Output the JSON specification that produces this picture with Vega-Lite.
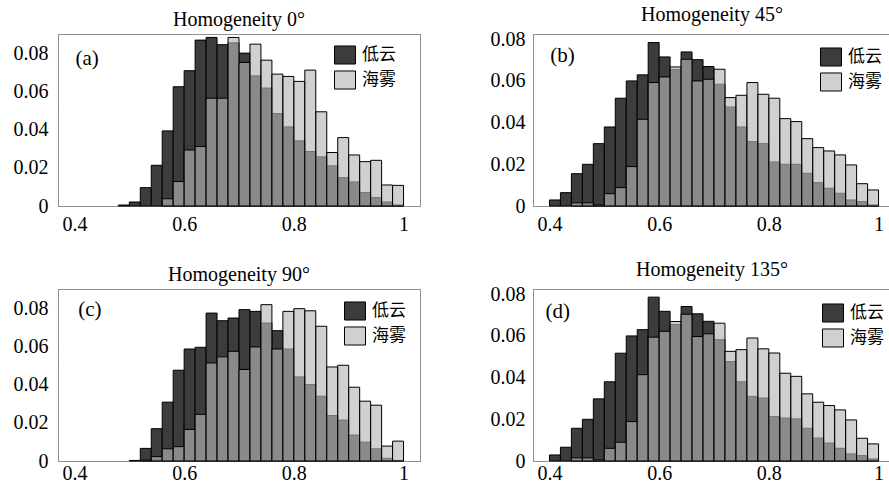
{
"$schema": "https://vega.github.io/schema/vega-lite/v6.json",
"background": "white",
"padding": {"left": 12, "top": 4, "right": 0, "bottom": 0},
"data": {"values": [
{"panel":"a","lo":0.48,"hi":0.50,"type":"低云","freq":0.0005},
{"panel":"a","lo":0.50,"hi":0.52,"type":"低云","freq":0.0021},
{"panel":"a","lo":0.52,"hi":0.54,"type":"低云","freq":0.0096},
{"panel":"a","lo":0.54,"hi":0.56,"type":"低云","freq":0.0213},
{"panel":"a","lo":0.56,"hi":0.58,"type":"低云","freq":0.0393},
{"panel":"a","lo":0.58,"hi":0.60,"type":"低云","freq":0.0624},
{"panel":"a","lo":0.60,"hi":0.62,"type":"低云","freq":0.0708},
{"panel":"a","lo":0.62,"hi":0.64,"type":"低云","freq":0.0868},
{"panel":"a","lo":0.64,"hi":0.66,"type":"低云","freq":0.0882},
{"panel":"a","lo":0.66,"hi":0.68,"type":"低云","freq":0.0844},
{"panel":"a","lo":0.68,"hi":0.70,"type":"低云","freq":0.0854},
{"panel":"a","lo":0.70,"hi":0.72,"type":"低云","freq":0.0800},
{"panel":"a","lo":0.72,"hi":0.74,"type":"低云","freq":0.0681},
{"panel":"a","lo":0.74,"hi":0.76,"type":"低云","freq":0.0617},
{"panel":"a","lo":0.76,"hi":0.78,"type":"低云","freq":0.0484},
{"panel":"a","lo":0.78,"hi":0.80,"type":"低云","freq":0.0414},
{"panel":"a","lo":0.80,"hi":0.82,"type":"低云","freq":0.0341},
{"panel":"a","lo":0.82,"hi":0.84,"type":"低云","freq":0.0285},
{"panel":"a","lo":0.84,"hi":0.86,"type":"低云","freq":0.0257},
{"panel":"a","lo":0.86,"hi":0.88,"type":"低云","freq":0.0210},
{"panel":"a","lo":0.88,"hi":0.90,"type":"低云","freq":0.0148},
{"panel":"a","lo":0.90,"hi":0.92,"type":"低云","freq":0.0126},
{"panel":"a","lo":0.92,"hi":0.94,"type":"低云","freq":0.0070},
{"panel":"a","lo":0.94,"hi":0.96,"type":"低云","freq":0.0044},
{"panel":"a","lo":0.96,"hi":0.98,"type":"低云","freq":0.0021},
{"panel":"a","lo":0.98,"hi":1.00,"type":"低云","freq":0.0005},
{"panel":"a","lo":0.56,"hi":0.58,"type":"海雾","freq":0.0038},
{"panel":"a","lo":0.58,"hi":0.60,"type":"海雾","freq":0.0128},
{"panel":"a","lo":0.60,"hi":0.62,"type":"海雾","freq":0.0293},
{"panel":"a","lo":0.62,"hi":0.64,"type":"海雾","freq":0.0311},
{"panel":"a","lo":0.64,"hi":0.66,"type":"海雾","freq":0.0564},
{"panel":"a","lo":0.66,"hi":0.68,"type":"海雾","freq":0.0564},
{"panel":"a","lo":0.68,"hi":0.70,"type":"海雾","freq":0.0882},
{"panel":"a","lo":0.70,"hi":0.72,"type":"海雾","freq":0.0751},
{"panel":"a","lo":0.72,"hi":0.74,"type":"海雾","freq":0.0847},
{"panel":"a","lo":0.74,"hi":0.76,"type":"海雾","freq":0.0763},
{"panel":"a","lo":0.76,"hi":0.78,"type":"海雾","freq":0.0690},
{"panel":"a","lo":0.78,"hi":0.80,"type":"海雾","freq":0.0678},
{"panel":"a","lo":0.80,"hi":0.82,"type":"海雾","freq":0.0652},
{"panel":"a","lo":0.82,"hi":0.84,"type":"海雾","freq":0.0711},
{"panel":"a","lo":0.84,"hi":0.86,"type":"海雾","freq":0.0493},
{"panel":"a","lo":0.86,"hi":0.88,"type":"海雾","freq":0.0280},
{"panel":"a","lo":0.88,"hi":0.90,"type":"海雾","freq":0.0358},
{"panel":"a","lo":0.90,"hi":0.92,"type":"海雾","freq":0.0267},
{"panel":"a","lo":0.92,"hi":0.94,"type":"海雾","freq":0.0232},
{"panel":"a","lo":0.94,"hi":0.96,"type":"海雾","freq":0.0239},
{"panel":"a","lo":0.96,"hi":0.98,"type":"海雾","freq":0.0110},
{"panel":"a","lo":0.98,"hi":1.00,"type":"海雾","freq":0.0108},
{"panel":"b","lo":0.40,"hi":0.42,"type":"低云","freq":0.0029},
{"panel":"b","lo":0.42,"hi":0.44,"type":"低云","freq":0.0064},
{"panel":"b","lo":0.44,"hi":0.46,"type":"低云","freq":0.0155},
{"panel":"b","lo":0.46,"hi":0.48,"type":"低云","freq":0.0200},
{"panel":"b","lo":0.48,"hi":0.50,"type":"低云","freq":0.0299},
{"panel":"b","lo":0.50,"hi":0.52,"type":"低云","freq":0.0379},
{"panel":"b","lo":0.52,"hi":0.54,"type":"低云","freq":0.0517},
{"panel":"b","lo":0.54,"hi":0.56,"type":"低云","freq":0.0600},
{"panel":"b","lo":0.56,"hi":0.58,"type":"低云","freq":0.0629},
{"panel":"b","lo":0.58,"hi":0.60,"type":"低云","freq":0.0784},
{"panel":"b","lo":0.60,"hi":0.62,"type":"低云","freq":0.0715},
{"panel":"b","lo":0.62,"hi":0.64,"type":"低云","freq":0.0655},
{"panel":"b","lo":0.64,"hi":0.66,"type":"低云","freq":0.0739},
{"panel":"b","lo":0.66,"hi":0.68,"type":"低云","freq":0.0702},
{"panel":"b","lo":0.68,"hi":0.70,"type":"低云","freq":0.0669},
{"panel":"b","lo":0.70,"hi":0.72,"type":"低云","freq":0.0584},
{"panel":"b","lo":0.72,"hi":0.74,"type":"低云","freq":0.0475},
{"panel":"b","lo":0.74,"hi":0.76,"type":"低云","freq":0.0379},
{"panel":"b","lo":0.76,"hi":0.78,"type":"低云","freq":0.0309},
{"panel":"b","lo":0.78,"hi":0.80,"type":"低云","freq":0.0299},
{"panel":"b","lo":0.80,"hi":0.82,"type":"低云","freq":0.0211},
{"panel":"b","lo":0.82,"hi":0.84,"type":"低云","freq":0.0200},
{"panel":"b","lo":0.84,"hi":0.86,"type":"低云","freq":0.0200},
{"panel":"b","lo":0.86,"hi":0.88,"type":"低云","freq":0.0157},
{"panel":"b","lo":0.88,"hi":0.90,"type":"低云","freq":0.0112},
{"panel":"b","lo":0.90,"hi":0.92,"type":"低云","freq":0.0085},
{"panel":"b","lo":0.92,"hi":0.94,"type":"低云","freq":0.0061},
{"panel":"b","lo":0.94,"hi":0.96,"type":"低云","freq":0.0029},
{"panel":"b","lo":0.96,"hi":0.98,"type":"低云","freq":0.0021},
{"panel":"b","lo":0.98,"hi":1.00,"type":"低云","freq":0.0005},
{"panel":"b","lo":0.44,"hi":0.46,"type":"海雾","freq":0.0015},
{"panel":"b","lo":0.46,"hi":0.48,"type":"海雾","freq":0.0015},
{"panel":"b","lo":0.48,"hi":0.50,"type":"海雾","freq":0.0005},
{"panel":"b","lo":0.50,"hi":0.52,"type":"海雾","freq":0.0059},
{"panel":"b","lo":0.52,"hi":0.54,"type":"海雾","freq":0.0088},
{"panel":"b","lo":0.54,"hi":0.56,"type":"海雾","freq":0.0189},
{"panel":"b","lo":0.56,"hi":0.58,"type":"海雾","freq":0.0416},
{"panel":"b","lo":0.58,"hi":0.60,"type":"海雾","freq":0.0592},
{"panel":"b","lo":0.60,"hi":0.62,"type":"海雾","freq":0.0619},
{"panel":"b","lo":0.62,"hi":0.64,"type":"海雾","freq":0.0667},
{"panel":"b","lo":0.64,"hi":0.66,"type":"海雾","freq":0.0704},
{"panel":"b","lo":0.66,"hi":0.68,"type":"海雾","freq":0.0600},
{"panel":"b","lo":0.68,"hi":0.70,"type":"海雾","freq":0.0608},
{"panel":"b","lo":0.70,"hi":0.72,"type":"海雾","freq":0.0656},
{"panel":"b","lo":0.72,"hi":0.74,"type":"海雾","freq":0.0520},
{"panel":"b","lo":0.74,"hi":0.76,"type":"海雾","freq":0.0531},
{"panel":"b","lo":0.76,"hi":0.78,"type":"海雾","freq":0.0592},
{"panel":"b","lo":0.78,"hi":0.80,"type":"海雾","freq":0.0536},
{"panel":"b","lo":0.80,"hi":0.82,"type":"海雾","freq":0.0517},
{"panel":"b","lo":0.82,"hi":0.84,"type":"海雾","freq":0.0419},
{"panel":"b","lo":0.84,"hi":0.86,"type":"海雾","freq":0.0405},
{"panel":"b","lo":0.86,"hi":0.88,"type":"海雾","freq":0.0323},
{"panel":"b","lo":0.88,"hi":0.90,"type":"海雾","freq":0.0280},
{"panel":"b","lo":0.90,"hi":0.92,"type":"海雾","freq":0.0264},
{"panel":"b","lo":0.92,"hi":0.94,"type":"海雾","freq":0.0245},
{"panel":"b","lo":0.94,"hi":0.96,"type":"海雾","freq":0.0197},
{"panel":"b","lo":0.96,"hi":0.98,"type":"海雾","freq":0.0107},
{"panel":"b","lo":0.98,"hi":1.00,"type":"海雾","freq":0.0077},
{"panel":"c","lo":0.50,"hi":0.52,"type":"低云","freq":0.0003},
{"panel":"c","lo":0.52,"hi":0.54,"type":"低云","freq":0.0066},
{"panel":"c","lo":0.54,"hi":0.56,"type":"低云","freq":0.0169},
{"panel":"c","lo":0.56,"hi":0.58,"type":"低云","freq":0.0308},
{"panel":"c","lo":0.58,"hi":0.60,"type":"低云","freq":0.0475},
{"panel":"c","lo":0.60,"hi":0.62,"type":"低云","freq":0.0586},
{"panel":"c","lo":0.62,"hi":0.64,"type":"低云","freq":0.0595},
{"panel":"c","lo":0.64,"hi":0.66,"type":"低云","freq":0.0774},
{"panel":"c","lo":0.66,"hi":0.68,"type":"低云","freq":0.0734},
{"panel":"c","lo":0.68,"hi":0.70,"type":"低云","freq":0.0748},
{"panel":"c","lo":0.70,"hi":0.72,"type":"低云","freq":0.0792},
{"panel":"c","lo":0.72,"hi":0.74,"type":"低云","freq":0.0783},
{"panel":"c","lo":0.74,"hi":0.76,"type":"低云","freq":0.0722},
{"panel":"c","lo":0.76,"hi":0.78,"type":"低云","freq":0.0682},
{"panel":"c","lo":0.78,"hi":0.80,"type":"低云","freq":0.0586},
{"panel":"c","lo":0.80,"hi":0.82,"type":"低云","freq":0.0440},
{"panel":"c","lo":0.82,"hi":0.84,"type":"低云","freq":0.0400},
{"panel":"c","lo":0.84,"hi":0.86,"type":"低云","freq":0.0339},
{"panel":"c","lo":0.86,"hi":0.88,"type":"低云","freq":0.0238},
{"panel":"c","lo":0.88,"hi":0.90,"type":"低云","freq":0.0214},
{"panel":"c","lo":0.90,"hi":0.92,"type":"低云","freq":0.0136},
{"panel":"c","lo":0.92,"hi":0.94,"type":"低云","freq":0.0099},
{"panel":"c","lo":0.94,"hi":0.96,"type":"低云","freq":0.0064},
{"panel":"c","lo":0.96,"hi":0.98,"type":"低云","freq":0.0014},
{"panel":"c","lo":0.98,"hi":1.00,"type":"低云","freq":0.0003},
{"panel":"c","lo":0.52,"hi":0.54,"type":"海雾","freq":0.0005},
{"panel":"c","lo":0.54,"hi":0.56,"type":"海雾","freq":0.0023},
{"panel":"c","lo":0.56,"hi":0.58,"type":"海雾","freq":0.0064},
{"panel":"c","lo":0.58,"hi":0.60,"type":"海雾","freq":0.0075},
{"panel":"c","lo":0.60,"hi":0.62,"type":"海雾","freq":0.0165},
{"panel":"c","lo":0.62,"hi":0.64,"type":"海雾","freq":0.0244},
{"panel":"c","lo":0.64,"hi":0.66,"type":"海雾","freq":0.0513},
{"panel":"c","lo":0.66,"hi":0.68,"type":"海雾","freq":0.0545},
{"panel":"c","lo":0.68,"hi":0.70,"type":"海雾","freq":0.0574},
{"panel":"c","lo":0.70,"hi":0.72,"type":"海雾","freq":0.0479},
{"panel":"c","lo":0.72,"hi":0.74,"type":"海雾","freq":0.0597},
{"panel":"c","lo":0.74,"hi":0.76,"type":"海雾","freq":0.0818},
{"panel":"c","lo":0.76,"hi":0.78,"type":"海雾","freq":0.0586},
{"panel":"c","lo":0.78,"hi":0.80,"type":"海雾","freq":0.0783},
{"panel":"c","lo":0.80,"hi":0.82,"type":"海雾","freq":0.0797},
{"panel":"c","lo":0.82,"hi":0.84,"type":"海雾","freq":0.0786},
{"panel":"c","lo":0.84,"hi":0.86,"type":"海雾","freq":0.0705},
{"panel":"c","lo":0.86,"hi":0.88,"type":"海雾","freq":0.0492},
{"panel":"c","lo":0.88,"hi":0.90,"type":"海雾","freq":0.0501},
{"panel":"c","lo":0.90,"hi":0.92,"type":"海雾","freq":0.0386},
{"panel":"c","lo":0.92,"hi":0.94,"type":"海雾","freq":0.0313},
{"panel":"c","lo":0.94,"hi":0.96,"type":"海雾","freq":0.0292},
{"panel":"c","lo":0.96,"hi":0.98,"type":"海雾","freq":0.0078},
{"panel":"c","lo":0.98,"hi":1.00,"type":"海雾","freq":0.0104},
{"panel":"d","lo":0.40,"hi":0.42,"type":"低云","freq":0.0029},
{"panel":"d","lo":0.42,"hi":0.44,"type":"低云","freq":0.0066},
{"panel":"d","lo":0.44,"hi":0.46,"type":"低云","freq":0.0157},
{"panel":"d","lo":0.46,"hi":0.48,"type":"低云","freq":0.0200},
{"panel":"d","lo":0.48,"hi":0.50,"type":"低云","freq":0.0298},
{"panel":"d","lo":0.50,"hi":0.52,"type":"低云","freq":0.0380},
{"panel":"d","lo":0.52,"hi":0.54,"type":"低云","freq":0.0517},
{"panel":"d","lo":0.54,"hi":0.56,"type":"低云","freq":0.0600},
{"panel":"d","lo":0.56,"hi":0.58,"type":"低云","freq":0.0630},
{"panel":"d","lo":0.58,"hi":0.60,"type":"低云","freq":0.0786},
{"panel":"d","lo":0.60,"hi":0.62,"type":"低云","freq":0.0718},
{"panel":"d","lo":0.62,"hi":0.64,"type":"低云","freq":0.0655},
{"panel":"d","lo":0.64,"hi":0.66,"type":"低云","freq":0.0741},
{"panel":"d","lo":0.66,"hi":0.68,"type":"低云","freq":0.0706},
{"panel":"d","lo":0.68,"hi":0.70,"type":"低云","freq":0.0670},
{"panel":"d","lo":0.70,"hi":0.72,"type":"低云","freq":0.0582},
{"panel":"d","lo":0.72,"hi":0.74,"type":"低云","freq":0.0477},
{"panel":"d","lo":0.74,"hi":0.76,"type":"低云","freq":0.0380},
{"panel":"d","lo":0.76,"hi":0.78,"type":"低云","freq":0.0310},
{"panel":"d","lo":0.78,"hi":0.80,"type":"低云","freq":0.0302},
{"panel":"d","lo":0.80,"hi":0.82,"type":"低云","freq":0.0213},
{"panel":"d","lo":0.82,"hi":0.84,"type":"低云","freq":0.0206},
{"panel":"d","lo":0.84,"hi":0.86,"type":"低云","freq":0.0202},
{"panel":"d","lo":0.86,"hi":0.88,"type":"低云","freq":0.0157},
{"panel":"d","lo":0.88,"hi":0.90,"type":"低云","freq":0.0110},
{"panel":"d","lo":0.90,"hi":0.92,"type":"低云","freq":0.0086},
{"panel":"d","lo":0.92,"hi":0.94,"type":"低云","freq":0.0061},
{"panel":"d","lo":0.94,"hi":0.96,"type":"低云","freq":0.0034},
{"panel":"d","lo":0.96,"hi":0.98,"type":"低云","freq":0.0026},
{"panel":"d","lo":0.98,"hi":1.00,"type":"低云","freq":0.0010},
{"panel":"d","lo":0.44,"hi":0.46,"type":"海雾","freq":0.0015},
{"panel":"d","lo":0.46,"hi":0.48,"type":"海雾","freq":0.0015},
{"panel":"d","lo":0.48,"hi":0.50,"type":"海雾","freq":0.0005},
{"panel":"d","lo":0.50,"hi":0.52,"type":"海雾","freq":0.0061},
{"panel":"d","lo":0.52,"hi":0.54,"type":"海雾","freq":0.0090},
{"panel":"d","lo":0.54,"hi":0.56,"type":"海雾","freq":0.0189},
{"panel":"d","lo":0.56,"hi":0.58,"type":"海雾","freq":0.0414},
{"panel":"d","lo":0.58,"hi":0.60,"type":"海雾","freq":0.0594},
{"panel":"d","lo":0.60,"hi":0.62,"type":"海雾","freq":0.0622},
{"panel":"d","lo":0.62,"hi":0.64,"type":"海雾","freq":0.0669},
{"panel":"d","lo":0.64,"hi":0.66,"type":"海雾","freq":0.0704},
{"panel":"d","lo":0.66,"hi":0.68,"type":"海雾","freq":0.0597},
{"panel":"d","lo":0.68,"hi":0.70,"type":"海雾","freq":0.0610},
{"panel":"d","lo":0.70,"hi":0.72,"type":"海雾","freq":0.0661},
{"panel":"d","lo":0.72,"hi":0.74,"type":"海雾","freq":0.0526},
{"panel":"d","lo":0.74,"hi":0.76,"type":"海雾","freq":0.0534},
{"panel":"d","lo":0.76,"hi":0.78,"type":"海雾","freq":0.0590},
{"panel":"d","lo":0.78,"hi":0.80,"type":"海雾","freq":0.0538},
{"panel":"d","lo":0.80,"hi":0.82,"type":"海雾","freq":0.0518},
{"panel":"d","lo":0.82,"hi":0.84,"type":"海雾","freq":0.0421},
{"panel":"d","lo":0.84,"hi":0.86,"type":"海雾","freq":0.0406},
{"panel":"d","lo":0.86,"hi":0.88,"type":"海雾","freq":0.0322},
{"panel":"d","lo":0.88,"hi":0.90,"type":"海雾","freq":0.0282},
{"panel":"d","lo":0.90,"hi":0.92,"type":"海雾","freq":0.0266},
{"panel":"d","lo":0.92,"hi":0.94,"type":"海雾","freq":0.0245},
{"panel":"d","lo":0.94,"hi":0.96,"type":"海雾","freq":0.0197},
{"panel":"d","lo":0.96,"hi":0.98,"type":"海雾","freq":0.0109},
{"panel":"d","lo":0.98,"hi":1.00,"type":"海雾","freq":0.0082}
]},
"columns": 2,
"align": "each",
"spacing": {"row": 24, "column": 68},
"resolve": {"scale": {"color": "independent"}, "legend": {"color": "independent"}},
"concat": [
{
 "title": "Homogeneity 0°",
 "width": 362, "height": 172,
 "layer": [
  {"transform": [{"filter": "datum.panel === 'a' && datum.type === '低云'"}],
   "mark": {"type": "bar", "stroke": "black", "strokeWidth": 1},
   "encoding": {
    "x": {"field": "lo", "type": "quantitative", "scale": {"domain": [0.37, 1.03], "nice": false, "zero": false}, "axis": {"values": [0.4, 0.6, 0.8, 1], "format": "~g", "labelPadding": 8}},
    "x2": {"field": "hi"},
    "y": {"field": "freq", "type": "quantitative", "stack": null, "scale": {"domain": [0, 0.09], "nice": false}, "axis": {"values": [0, 0.02, 0.04, 0.06, 0.08], "format": "~g", "labelPadding": 10}},
    "y2": {"datum": 0},
    "color": {"field": "type", "type": "nominal", "scale": {"domain": ["低云", "海雾"], "range": ["#3c3c3c", "#b6b6b6"]},
      "legend": {"title": null, "orient": "none", "legendX": 276, "legendY": 10, "encode": {"symbols": {"update": {"fillOpacity": {"signal": "datum.value === '海雾' ? 0.645 : 1"}}}}}}
   }},
  {"transform": [{"filter": "datum.panel === 'a' && datum.type === '海雾'"}],
   "mark": {"type": "bar", "stroke": "black", "strokeWidth": 1, "fillOpacity": 0.645, "strokeOpacity": 1},
   "encoding": {
    "x": {"field": "lo", "type": "quantitative"},
    "x2": {"field": "hi"},
    "y": {"field": "freq", "type": "quantitative", "stack": null},
    "y2": {"datum": 0},
    "color": {"field": "type", "type": "nominal"}
   }},
  {"data": {"values": [{"label": "(a)"}]},
   "mark": {"type": "text", "font": "Liberation Serif", "fontSize": 21, "color": "black", "align": "center", "baseline": "middle"},
   "encoding": {"x": {"datum": 0.423}, "y": {"datum": 0.077}, "text": {"field": "label"}}}
 ]
},
{
 "title": "Homogeneity 45°",
 "width": 358, "height": 172,
 "layer": [
  {"transform": [{"filter": "datum.panel === 'b' && datum.type === '低云'"}],
   "mark": {"type": "bar", "stroke": "black", "strokeWidth": 1},
   "encoding": {
    "x": {"field": "lo", "type": "quantitative", "scale": {"domain": [0.37, 1.0227], "nice": false, "zero": false}, "axis": {"values": [0.4, 0.6, 0.8, 1], "format": "~g", "labelPadding": 8}},
    "x2": {"field": "hi"},
    "y": {"field": "freq", "type": "quantitative", "stack": null, "scale": {"domain": [0, 0.0825], "nice": false}, "axis": {"values": [0, 0.02, 0.04, 0.06, 0.08], "format": "~g", "labelPadding": 8}},
    "y2": {"datum": 0},
    "color": {"field": "type", "type": "nominal", "scale": {"domain": ["低云", "海雾"], "range": ["#3c3c3c", "#b6b6b6"]},
      "legend": {"title": null, "orient": "none", "legendX": 287, "legendY": 12, "encode": {"symbols": {"update": {"fillOpacity": {"signal": "datum.value === '海雾' ? 0.645 : 1"}}}}}}
   }},
  {"transform": [{"filter": "datum.panel === 'b' && datum.type === '海雾'"}],
   "mark": {"type": "bar", "stroke": "black", "strokeWidth": 1, "fillOpacity": 0.645, "strokeOpacity": 1},
   "encoding": {
    "x": {"field": "lo", "type": "quantitative"},
    "x2": {"field": "hi"},
    "y": {"field": "freq", "type": "quantitative", "stack": null},
    "y2": {"datum": 0},
    "color": {"field": "type", "type": "nominal"}
   }},
  {"data": {"values": [{"label": "(b)"}]},
   "mark": {"type": "text", "font": "Liberation Serif", "fontSize": 21, "color": "black", "align": "center", "baseline": "middle"},
   "encoding": {"x": {"datum": 0.4237}, "y": {"datum": 0.072}, "text": {"field": "label"}}}
 ]
},
{
 "title": "Homogeneity 90°",
 "width": 362, "height": 172,
 "layer": [
  {"transform": [{"filter": "datum.panel === 'c' && datum.type === '低云'"}],
   "mark": {"type": "bar", "stroke": "black", "strokeWidth": 1},
   "encoding": {
    "x": {"field": "lo", "type": "quantitative", "scale": {"domain": [0.37, 1.03], "nice": false, "zero": false}, "axis": {"values": [0.4, 0.6, 0.8, 1], "format": "~g", "labelPadding": 2}},
    "x2": {"field": "hi"},
    "y": {"field": "freq", "type": "quantitative", "stack": null, "scale": {"domain": [0, 0.09], "nice": false}, "axis": {"values": [0, 0.02, 0.04, 0.06, 0.08], "format": "~g", "labelPadding": 10}},
    "y2": {"datum": 0},
    "color": {"field": "type", "type": "nominal", "scale": {"domain": ["低云", "海雾"], "range": ["#3c3c3c", "#b6b6b6"]},
      "legend": {"title": null, "orient": "none", "legendX": 286, "legendY": 11, "encode": {"symbols": {"update": {"fillOpacity": {"signal": "datum.value === '海雾' ? 0.645 : 1"}}}}}}
   }},
  {"transform": [{"filter": "datum.panel === 'c' && datum.type === '海雾'"}],
   "mark": {"type": "bar", "stroke": "black", "strokeWidth": 1, "fillOpacity": 0.645, "strokeOpacity": 1},
   "encoding": {
    "x": {"field": "lo", "type": "quantitative"},
    "x2": {"field": "hi"},
    "y": {"field": "freq", "type": "quantitative", "stack": null},
    "y2": {"datum": 0},
    "color": {"field": "type", "type": "nominal"}
   }},
  {"data": {"values": [{"label": "(c)"}]},
   "mark": {"type": "text", "font": "Liberation Serif", "fontSize": 21, "color": "black", "align": "center", "baseline": "middle"},
   "encoding": {"x": {"datum": 0.428}, "y": {"datum": 0.0792}, "text": {"field": "label"}}}
 ]
},
{
 "title": "Homogeneity 135°",
 "width": 358, "height": 172,
 "layer": [
  {"transform": [{"filter": "datum.panel === 'd' && datum.type === '低云'"}],
   "mark": {"type": "bar", "stroke": "black", "strokeWidth": 1},
   "encoding": {
    "x": {"field": "lo", "type": "quantitative", "scale": {"domain": [0.37, 1.0227], "nice": false, "zero": false}, "axis": {"values": [0.4, 0.6, 0.8, 1], "format": "~g", "labelPadding": 2}},
    "x2": {"field": "hi"},
    "y": {"field": "freq", "type": "quantitative", "stack": null, "scale": {"domain": [0, 0.0825], "nice": false}, "axis": {"values": [0, 0.02, 0.04, 0.06, 0.08], "format": "~g", "labelPadding": 8}},
    "y2": {"datum": 0},
    "color": {"field": "type", "type": "nominal", "scale": {"domain": ["低云", "海雾"], "range": ["#3c3c3c", "#b6b6b6"]},
      "legend": {"title": null, "orient": "none", "legendX": 289, "legendY": 13, "encode": {"symbols": {"update": {"fillOpacity": {"signal": "datum.value === '海雾' ? 0.645 : 1"}}}}}}
   }},
  {"transform": [{"filter": "datum.panel === 'd' && datum.type === '海雾'"}],
   "mark": {"type": "bar", "stroke": "black", "strokeWidth": 1, "fillOpacity": 0.645, "strokeOpacity": 1},
   "encoding": {
    "x": {"field": "lo", "type": "quantitative"},
    "x2": {"field": "hi"},
    "y": {"field": "freq", "type": "quantitative", "stack": null},
    "y2": {"datum": 0},
    "color": {"field": "type", "type": "nominal"}
   }},
  {"data": {"values": [{"label": "(d)"}]},
   "mark": {"type": "text", "font": "Liberation Serif", "fontSize": 21, "color": "black", "align": "center", "baseline": "middle"},
   "encoding": {"x": {"datum": 0.415}, "y": {"datum": 0.0714}, "text": {"field": "label"}}}
 ]
}
],
"config": {
 "view": {"stroke": "#222", "strokeWidth": 1, "strokeDash": [1, 1]},
 "axis": {"labelFont": "Liberation Serif", "labelFontSize": 20, "labelColor": "black", "ticks": false, "domain": false, "grid": false, "title": null, "labelFlush": false},
 "title": {"font": "Liberation Serif", "fontSize": 20, "fontWeight": "normal", "color": "black", "offset": 4, "anchor": "middle"},
 "legend": {"symbolType": "M-1,-0.86H1V0.86H-1Z", "symbolSize": 441, "symbolStrokeColor": "black", "symbolStrokeWidth": 1, "labelFont": "Noto Sans CJK SC", "labelFontSize": 17, "labelColor": "black", "labelOffset": 6, "rowPadding": 1, "padding": 0}
}
}
